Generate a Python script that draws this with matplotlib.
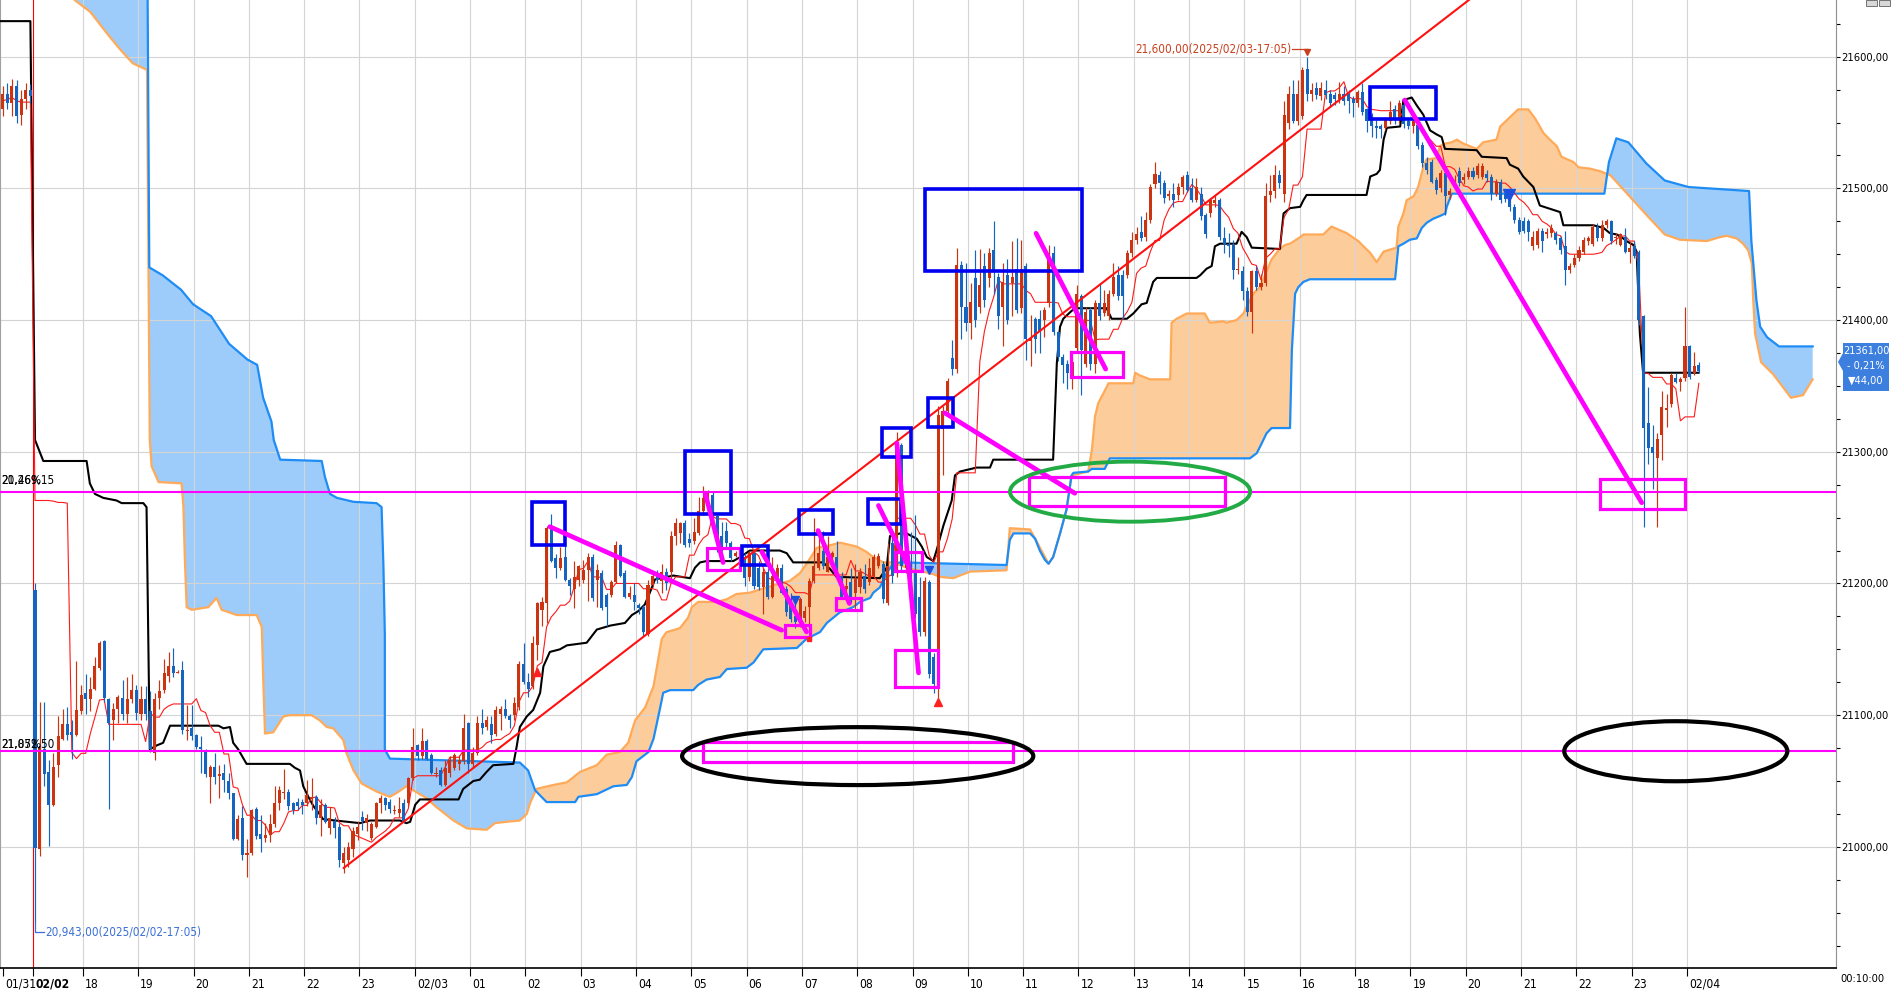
import os, glob
import numpy as np
import matplotlib
matplotlib.use('Agg')
import matplotlib.pyplot as plt
from matplotlib.patches import Rectangle, Ellipse, Polygon
from matplotlib import font_manager
from matplotlib.font_manager import FontProperties
from matplotlib.transforms import ScaledTranslation

# ------------------------------------------------------------------ data
first_index = -7   # bar index of the first candle (02/02 session starts at 0)

opens = [21560,21572,21565,21578,21556,21568,21575,21195,20998,21074,
         21057,21032,21062,21082,21093,21087,21085,21103,21117,21112,
         21120,21136,21156,21112,21096,21105,21113,21101,21112,21119,
         21101,21112,21103,21071,21113,21119,21130,21137,21132,21134,
         21088,21090,21085,21076,21072,21053,21061,21054,21056,21050,
         21041,21006,21022,20994,20995,21029,21010,21007,21009,21017,
         21033,21041,21042,21033,21034,21034,21033,21036,21038,21022,
         21032,21014,21020,21015,20988,20990,20998,21010,21023,21018,
         21007,21015,21033,21037,21034,21027,21026,21033,21033,21052,
         21077,21069,21080,21070,21055,21058,21047,21056,21060,21063,
         21065,21094,21063,21071,21094,21091,21093,21086,21101,21105,
         21099,21100,21106,21139,21125,21122,21153,21180,21185,21242,
         21219,21212,21220,21203,21196,21203,21203,21210,21220,21203,
         21208,21191,21191,21201,21229,21208,21190,21191,21184,21182,
         21162,21199,21208,21202,21209,21209,21236,21238,21246,21234,
         21232,21238,21255,21263,21267,21251,21236,21240,21231,21221,
         21224,21220,21205,21223,21212,21197,21209,21190,21205,21212,
         21196,21188,21175,21171,21174,21182,21202,21212,21225,21209,
         21220,21220,21206,21196,21201,21193,21197,21206,21201,21206,
         21213,21215,21185,21231,21209,21305,21212,21215,21209,21190,
         21163,21201,21144,21122,21317,21331,21371,21363,21442,21410,
         21398,21432,21410,21441,21432,21453,21433,21410,21434,21428,
         21439,21409,21441,21384,21401,21401,21400,21413,21451,21391,
         21372,21367,21355,21379,21418,21367,21408,21367,21413,21405,
         21403,21420,21434,21434,21434,21451,21461,21467,21463,21476,
         21503,21510,21504,21494,21496,21495,21501,21510,21500,21491,
         21496,21480,21481,21489,21491,21462,21458,21457,21438,21437,
         21422,21406,21437,21425,21428,21495,21498,21510,21496,21550,
         21572,21551,21555,21591,21572,21576,21570,21575,21572,21571,
         21568,21572,21572,21568,21565,21573,21560,21556,21547,21547,
         21546,21551,21560,21552,21563,21551,21547,21548,21533,21519,
         21520,21506,21500,21512,21495,21503,21513,21506,21509,21513,
         21510,21509,21511,21509,21496,21505,21496,21492,21486,21476,
         21475,21475,21456,21457,21468,21465,21466,21466,21462,21456,
         21438,21442,21447,21452,21460,21458,21471,21462,21472,21475,
         21462,21457,21463,21452,21456,21452,21403,21322,21304,21295,
         21313,21332,21336,21356,21353,21356,21380,21360,21366]
highs = [21578,21580,21583,21582,21575,21580,21579,21200,21110,21110,
         21066,21071,21099,21105,21106,21096,21141,21123,21131,21129,
         21144,21156,21157,21113,21109,21115,21127,21129,21131,21123,
         21122,21122,21118,21117,21127,21143,21148,21151,21134,21141,
         21108,21108,21086,21084,21074,21062,21071,21062,21063,21056,
         21041,21024,21031,21006,21029,21030,21024,21018,21025,21046,
         21046,21059,21044,21034,21037,21036,21051,21052,21039,21036,
         21033,21030,21023,21018,21000,21004,21015,21020,21027,21025,
         21019,21034,21039,21038,21036,21032,21038,21036,21053,21090,
         21078,21090,21082,21071,21061,21061,21066,21069,21071,21070,
         21101,21095,21076,21099,21105,21099,21099,21107,21107,21112,
         21101,21114,21141,21155,21132,21160,21186,21190,21244,21253,
         21222,21228,21229,21204,21217,21214,21218,21223,21222,21215,
         21210,21193,21203,21232,21230,21210,21198,21200,21185,21184,
         21203,21208,21210,21215,21212,21240,21250,21247,21248,21238,
         21250,21266,21274,21271,21270,21252,21247,21247,21232,21225,
         21228,21223,21225,21224,21217,21212,21212,21220,21215,21215,
         21198,21193,21188,21190,21183,21204,21250,21239,21240,21236,
         21225,21232,21209,21204,21212,21215,21212,21215,21219,21222,
         21223,21217,21231,21235,21315,21307,21230,21239,21252,21205,
         21205,21203,21147,21335,21335,21356,21385,21455,21445,21443,
         21428,21453,21454,21451,21455,21475,21436,21443,21446,21460,
         21462,21461,21443,21404,21402,21408,21410,21457,21456,21392,
         21374,21370,21372,21427,21420,21410,21410,21415,21428,21423,
         21423,21443,21441,21438,21453,21467,21471,21479,21482,21503,
         21520,21513,21506,21499,21504,21504,21510,21513,21508,21508,
         21501,21481,21493,21495,21493,21471,21466,21461,21448,21441,
         21425,21438,21441,21435,21504,21510,21518,21514,21566,21578,
         21582,21582,21592,21600,21580,21581,21581,21582,21575,21573,
         21581,21578,21575,21570,21575,21580,21561,21557,21552,21549,
         21554,21566,21563,21567,21568,21553,21553,21549,21535,21524,
         21522,21509,21514,21513,21500,21510,21516,21512,21516,21516,
         21519,21519,21514,21511,21507,21507,21498,21494,21488,21478,
         21478,21477,21468,21470,21470,21470,21473,21468,21464,21468,
         21443,21450,21456,21463,21464,21473,21474,21476,21477,21476,
         21466,21466,21470,21460,21460,21453,21404,21349,21320,21314,
         21346,21344,21360,21360,21357,21410,21381,21376,21368]
lows = [21555,21560,21555,21550,21548,21560,21565,20943,20993,21046,
        21001,21031,21053,21081,21081,21067,21084,21101,21101,21103,
        21119,21134,21110,21029,21081,21094,21096,21094,21109,21096,
        21096,21096,21072,21066,21105,21117,21125,21129,21132,21086,
        21081,21081,21074,21056,21053,21033,21048,21037,21042,21036,
        21005,21005,20990,20977,20994,21006,20996,21004,21004,21015,
        21028,21036,21028,21025,21028,21025,21031,21028,21017,21008,
        21018,21010,21007,20985,20980,20985,20992,21005,21013,21012,
        21005,21014,21026,21028,21026,21025,21023,21018,21031,21051,
        21066,21067,21066,21055,21053,21046,21046,21053,21058,21058,
        21063,21056,21060,21070,21086,21089,21079,21084,21089,21098,
        21090,21096,21104,21124,21114,21120,21142,21168,21170,21216,
        21204,21210,21202,21191,21181,21198,21200,21187,21187,21182,
        21180,21168,21190,21200,21205,21189,21188,21180,21177,21160,
        21160,21197,21200,21193,21195,21200,21229,21231,21228,21228,
        21230,21237,21252,21262,21244,21224,21225,21228,21217,21220,
        21214,21198,21202,21196,21195,21177,21188,21189,21201,21192,
        21175,21171,21166,21167,21171,21163,21200,21210,21211,21209,
        21217,21205,21189,21193,21185,21179,21193,21193,21199,21204,
        21212,21185,21184,21200,21205,21210,21208,21196,21174,21160,
        21160,21128,21117,21113,21282,21328,21358,21360,21386,21392,
        21386,21395,21405,21410,21425,21420,21393,21380,21397,21403,
        21405,21405,21370,21365,21375,21375,21387,21410,21389,21369,
        21352,21348,21348,21375,21343,21364,21362,21360,21400,21403,
        21400,21418,21415,21401,21432,21448,21458,21460,21460,21474,
        21500,21496,21489,21491,21486,21491,21496,21497,21490,21490,
        21476,21462,21478,21486,21461,21451,21448,21431,21435,21415,
        21403,21390,21423,21423,21426,21490,21493,21500,21490,21545,
        21550,21548,21553,21566,21566,21568,21567,21568,21562,21563,
        21565,21563,21557,21554,21562,21556,21543,21539,21538,21538,
        21544,21549,21549,21550,21546,21545,21542,21530,21516,21511,
        21504,21496,21497,21480,21492,21500,21502,21503,21507,21507,
        21508,21507,21505,21491,21494,21489,21490,21483,21474,21465,
        21466,21460,21453,21455,21452,21462,21463,21458,21450,21427,
        21436,21440,21445,21450,21457,21456,21460,21460,21470,21458,
        21458,21456,21451,21443,21447,21396,21243,21291,21272,21243,
        21294,21319,21334,21352,21346,21354,21355,21358,21360]
closes = [21572,21565,21578,21555,21568,21575,21570,20999,21076,21055,
          21032,21061,21084,21093,21085,21085,21104,21115,21112,21120,
          21137,21155,21113,21094,21105,21114,21101,21112,21119,21102,
          21112,21101,21074,21112,21118,21132,21137,21132,21133,21089,
          21089,21084,21076,21074,21055,21061,21053,21055,21051,21041,
          21006,21021,20994,20995,21028,21008,21006,21009,21017,21033,
          21043,21042,21031,21028,21031,21032,21039,21038,21022,21032,
          21019,21022,21014,20990,20995,21000,21012,21015,21020,21022,
          21017,21033,21037,21032,21029,21028,21029,21018,21052,21076,
          21069,21080,21067,21056,21056,21047,21060,21066,21070,21066,
          21090,21063,21071,21094,21090,21096,21085,21104,21105,21099,
          21096,21109,21139,21125,21120,21155,21185,21186,21242,21217,
          21212,21219,21203,21198,21205,21213,21210,21220,21189,21210,
          21181,21182,21201,21229,21206,21190,21193,21186,21181,21163,
          21199,21206,21203,21209,21200,21236,21246,21246,21229,21231,
          21239,21255,21265,21269,21246,21234,21228,21231,21219,21223,
          21216,21204,21223,21198,21197,21209,21190,21206,21212,21193,
          21178,21173,21171,21188,21179,21202,21213,21223,21213,21220,
          21223,21209,21190,21198,21186,21204,21209,21196,21212,21220,
          21221,21188,21213,21206,21306,21213,21223,21198,21177,21163,
          21202,21131,21124,21328,21331,21354,21363,21442,21410,21398,
          21414,21400,21427,21415,21451,21438,21403,21429,21400,21433,
          21408,21439,21386,21386,21386,21392,21408,21446,21391,21372,
          21366,21360,21368,21420,21377,21406,21367,21413,21403,21413,
          21420,21433,21418,21418,21451,21461,21465,21462,21476,21501,
          21511,21504,21493,21496,21491,21501,21509,21499,21491,21501,
          21479,21465,21491,21491,21463,21458,21456,21438,21439,21422,
          21406,21437,21425,21428,21494,21498,21510,21504,21556,21572,
          21551,21572,21590,21572,21575,21571,21576,21571,21565,21568,
          21572,21566,21566,21565,21573,21558,21551,21547,21546,21545,
          21552,21558,21552,21565,21549,21547,21551,21532,21519,21514,
          21505,21499,21512,21494,21498,21506,21504,21509,21513,21509,
          21517,21517,21508,21496,21505,21491,21492,21486,21476,21467,
          21468,21467,21463,21468,21460,21467,21470,21461,21453,21438,
          21441,21447,21453,21461,21462,21471,21462,21472,21475,21460,
          21463,21465,21452,21455,21449,21400,21318,21303,21299,21310,
          21334,21333,21358,21353,21355,21380,21357,21365,21361]

# kijun-sen (black), traced
kijun_x = [-7.6,-1,0,1.8,11.2,11.9,13.0,14.8,17.7,18.8,23.5,24.2,24.9,26.4,27.8,28.6,29.3,39.8,40.9,42.3,
           43.0,44.1,45.9,55.3,56.4,57.5,58.2,59.3,60.4,61.5,62.5,70.5,72.7,79.2,80.6,81.4,82.5,83.5,91.9,92.9,
           95.1,96.5,98.0,99.4,103.8,104.5,105.2,106.7,108.1,109.6,110.3,111.7,113.9,115.4,119.7,121.9,124.8,128.0,129.5,130.9,
           132.3,133.4,134.5,138.5,142.1,143.2,144.3,145.7,151.5,153.0,155.1,161.6,163.1,164.5,171.0,172.5,173.9,183.3,184.8,185.5,
           187.7,189.1,191.3,192.4,193.5,194.9,195.6,197.1,198.9,199.6,200.7,204.3,207.2,207.9,220.9,221.7,222.4,223.1,224.6,225.6,
           232.5,233.6,236.9,238.3,240.1,241.2,242.6,243.4,252.0,252.8,254.2,255.3,256.0,257.1,260.7,261.8,262.9,264.0,270.1,270.9,
           272.3,274.5,275.2,275.9,288.9,289.7,291.1,291.8,292.6,293.3,296.2,296.9,298.7,299.8,301.2,302.7,304.1,305.2,305.9,312.8,
           313.9,319.3,320.0,321.8,322.9,325.1,326.5,330.9,331.6,338.1,340.3,341.7,343.2,344.6,345.3,346.8,347.5,348.2,348.9,360.9]
kijun_y = [21627,21627,21309,21293,21293,21276,21268,21265,21263,21261,21261,21258,21074,21077,21079,21086,21092,21092,21090,21091,
           21079,21074,21063,21063,21060,21058,21046,21038,21031,21026,21021,21018,21020,21020,21018,21019,21032,21036,21036,21044,
           21050,21051,21057,21062,21063,21076,21091,21099,21104,21117,21137,21148,21150,21153,21155,21165,21168,21170,21176,21179,
           21184,21193,21203,21206,21204,21212,21216,21217,21217,21220,21225,21225,21223,21216,21216,21211,21205,21204,21212,21236,
           21238,21238,21234,21228,21220,21217,21225,21244,21263,21282,21285,21288,21288,21294,21294,21367,21395,21401,21406,21409,
           21409,21401,21401,21405,21412,21413,21429,21432,21432,21434,21439,21441,21456,21458,21458,21467,21463,21455,21454,21481,
           21485,21486,21491,21495,21495,21509,21511,21514,21537,21546,21547,21567,21569,21563,21556,21544,21541,21539,21530,21529,
           21524,21523,21518,21515,21509,21501,21487,21482,21472,21472,21470,21466,21465,21462,21460,21457,21452,21390,21360,21360]

# senkou span A (orange), traced
span_a_x = [-7.6,4.0,8.6,12.0,16.0,18.6,21.2,24.3,24.9,25.3,26.8,31.8,32.2,32.5,32.9,34.0,37.6,39.4,40.5,43.8,
            48.1,49.2,49.5,49.9,51.7,53.9,55.3,60.0,61.8,63.3,64.7,66.9,67.6,69.1,70.9,74.1,77.0,78.5,80.6,82.5,
            85.0,86.8,90.8,93.7,98.0,99.8,102.3,105.2,106.7,107.4,108.8,112.5,115.4,118.3,121.9,124.0,126.9,128.7,130.2,132.4,
            134.2,135.2,136.0,137.0,139.9,141.7,142.5,143.9,147.9,150.1,152.2,155.1,161.6,163.8,166.0,167.4,168.9,169.6,172.5,174.7,
            178.3,180.4,181.9,184.1,186.2,189.1,192.7,194.9,196.4,199.2,200.7,202.9,210.8,211.5,215.9,217.0,219.9,220.9,222.4,223.8,
            224.9,228.5,229.3,230.0,230.7,232.5,232.9,238.3,238.7,239.7,241.9,246.3,246.6,247.7,249.9,253.8,254.9,257.8,258.5,260.7,
            262.2,262.9,264.3,265.8,267.2,268.3,269.8,271.2,272.3,274.5,275.2,279.5,281.3,284.6,287.1,289.7,291.1,292.6,295.4,295.8,
            296.9,297.6,299.1,300.1,301.2,301.9,304.1,304.8,305.9,307.4,308.5,309.9,312.8,314.2,317.1,317.9,320.0,321.8,324.0,325.5,
            327.3,328.7,330.2,331.2,333.8,334.9,337.4,339.6,341.8,345.7,349.6,353.6,356.9,362.7,365.6,367.0,369.2,370.6,371.7,372.5,
            372.8,373.2,374.5,377.1,381.0,383.6,385.7]
span_a_y = [21720,21668,21643,21634,21616,21605,21595,21590,21309,21289,21277,21276,21258,21220,21182,21180,21182,21189,21180,21176,
            21176,21167,21129,21086,21087,21099,21100,21100,21096,21091,21090,21081,21071,21058,21048,21042,21038,21041,21046,21042,
            21037,21031,21020,21014,21013,21018,21019,21020,21025,21033,21044,21047,21049,21057,21062,21070,21072,21079,21096,21106,
            21122,21142,21158,21163,21166,21174,21182,21186,21186,21188,21192,21193,21200,21202,21208,21215,21223,21227,21229,21231,
            21228,21224,21220,21216,21216,21212,21209,21207,21205,21204,21206,21209,21210,21242,21241,21234,21215,21220,21238,21256,
            21282,21285,21301,21327,21337,21349,21352,21352,21360,21358,21355,21355,21398,21401,21405,21405,21398,21399,21398,21400,
            21405,21410,21420,21425,21437,21446,21453,21457,21458,21463,21465,21465,21471,21466,21460,21451,21444,21452,21455,21471,
            21481,21491,21494,21501,21516,21522,21523,21532,21534,21535,21537,21534,21530,21535,21537,21547,21554,21560,21560,21553,
            21542,21537,21532,21524,21520,21516,21515,21513,21510,21495,21480,21465,21461,21460,21463,21464,21462,21458,21453,21443,
            21415,21390,21368,21359,21341,21343,21355]

# senkou span B (blue), traced
span_b_x = [-7.6,24.3,24.8,27.7,31.7,34.3,38.2,42.1,46.1,48.2,49.5,51.3,51.8,53.2,62.2,62.9,64.0,65.5,69.1,74.1,
            75.2,75.6,75.9,75.9,77.0,105.2,107.0,108.5,109.6,111.0,117.2,117.9,121.9,125.5,128.4,129.5,130.5,133.1,134.2,135.6,
            136.3,137.8,142.8,143.9,145.7,148.6,150.1,154.4,155.9,158.0,165.3,167.4,170.3,171.8,174.6,177.5,179.0,181.2,181.9,183.3,
            184.8,186.2,187.7,210.8,211.5,212.3,215.9,217.0,218.0,219.1,219.9,220.9,222.4,223.8,224.9,225.3,228.5,229.3,232.1,233.2,
            263.6,265.1,266.1,267.2,268.3,272.3,272.7,273.4,274.1,275.2,276.6,295.1,295.8,296.9,298.3,299.8,300.9,302.0,303.4,304.8,
            306.0,306.3,307.4,340.5,341.5,343.1,345.7,349.6,353.6,358.8,371.9,372.4,373.5,374.3,375.8,378.4,385.7]
span_b_y = [21720,21720,21440,21434,21423,21412,21403,21382,21370,21366,21341,21323,21309,21294,21293,21281,21268,21265,21262,21261,
            21258,21213,21162,21074,21067,21064,21058,21043,21039,21034,21034,21038,21040,21046,21047,21053,21065,21072,21082,21105,
            21117,21119,21119,21123,21127,21129,21135,21136,21140,21150,21151,21158,21163,21170,21178,21182,21186,21189,21193,21197,
            21208,21215,21216,21214,21233,21238,21238,21234,21225,21218,21215,21220,21238,21256,21282,21284,21285,21287,21287,21295,
            21295,21299,21306,21314,21318,21318,21377,21420,21425,21429,21431,21431,21456,21458,21461,21462,21470,21474,21477,21479,
            21481,21486,21496,21496,21520,21538,21535,21519,21506,21501,21498,21460,21415,21395,21387,21380,21380]

# horizontal support lines and trend line
hline_levels = [21269.5, 21072.5]
trend_x = [67.0, 312.2]
trend_y = [20984, 21646]

# time axis labels
session_labels = ['01/31', '02/02']
session_pos = [-6.9, -0.4]
hour_labels = ['18','19','20','21','22','23','02/03','01','02','03','04','05','06','07','08','09',
               '10','11','12','13','14','15','16','18','19','20','21','22','23','02/04']
first_hour_pos = 10.4
bars_per_hour = 12

price_ticks = [21000, 21100, 21200, 21300, 21400, 21500, 21600]

# drawn annotations (bar index / price)
magenta_boxes = [(145.7,153.0,21210.5,21227.2),(162.7,168.2,21159.1,21168.6),(173.8,179.2,21179.9,21189.0),
                 (186.6,196.0,21121.4,21149.7),(186.6,192.4,21209.1,21223.9),(215.7,258.2,21258.8,21281.1),
                 (224.8,236.1,21357.0,21376.0),(339.6,358.0,21256.3,21279.3),(144.9,212.2,21064.3,21079.9)]
blue_boxes = [(107.9,115.0,21229.2,21262.1),(141.0,151.0,21252.4,21300.6),(153.3,159.1,21214.0,21228.1),
              (165.8,173.1,21237.6,21255.8),(180.8,187.8,21244.8,21264.2),(183.7,190.0,21296.4,21318.1),
              (193.8,199.1,21318.6,21341.0),(193.1,227.1,21437.3,21499.5),(289.7,303.9,21552.7,21577.2)]
magenta_segments = [((111.7,21243.1),(162.0,21164.5)),((145.4,21268.6),(149.3,21215.9)),
                    ((157.7,21224.0),(167.4,21163.2)),((169.9,21240.2),(176.7,21184.8)),
                    ((183.0,21259.2),(189.1,21215.8)),((187.0,21306.5),(191.7,21132.1)),
                    ((197.4,21329.5),(225.6,21268.5)),((217.2,21465.9),(232.3,21362.8)),
                    ((297.2,21567.1),(348.6,21261.3))]
green_ellipse = (237.6, 21269.7, 52.1, 45.6)
black_ellipses = [(178.5, 21068.9, 76.2, 44.0), (356.0, 21072.6, 48.4, 45.6)]
blue_arrows = [(165.0, 21187.4), (194.0, 21210.5)]
big_blue_arrow = (319.9, 21495)
red_arrows = [(109.0, 21133), (196.0, 21110)]
red_dot = (168.0, 21157.5)

high_label = '21,600,00(2025/02/03-17:05)'
low_label = '20,943,00(2025/02/02-17:05)'
last_price = ['21361,00', '- 0,21%', '\u25bc44,00']

# ------------------------------------------------------------------ fonts (narrow UI-like font)
def find_font(basenames):
    paths = [f.fname for f in font_manager.fontManager.ttflist]
    for d in ('/usr/share/fonts', '/usr/local/share/fonts', os.path.expanduser('~/.fonts')):
        paths += glob.glob(os.path.join(d, '**', '*.ttf'), recursive=True)
    lookup = {os.path.basename(p).lower(): p for p in paths}
    for b in basenames:
        if b in lookup:
            return lookup[b], b
    return None, None

reg_path, reg_name = find_font(['liberationsansnarrow-regular.ttf', 'liberationsansnarrow.ttf',
                                'dejavusanscondensed.ttf'])
bold_path, _ = find_font(['liberationsansnarrow-bold.ttf', 'dejavusanscondensed-bold.ttf'])
if reg_path and 'liberation' in reg_name:
    BASE = 9.6
elif reg_path:
    BASE = 8.0
else:
    BASE = 7.2

def FP(scale=1.0, bold=False):
    if bold and bold_path:
        return FontProperties(fname=bold_path, size=BASE * scale)
    if reg_path:
        return FontProperties(fname=reg_path, size=BASE * scale, weight='bold' if bold else 'normal')
    return FontProperties(family='DejaVu Sans', size=BASE * scale, weight='bold' if bold else 'normal')

W, H = 1891, 990
fig = plt.figure(figsize=(W / 100, H / 100), dpi=100)
fig.patch.set_facecolor('white')
ax = fig.add_axes([0, 22 / H, 1836 / W, 968 / H])
ax.set_xlim(-7.594, 390.76)
ax.set_ylim(20908.0, 21643.05)

UP = '#CC3311'
DN = '#1565C0'

# grid
hour_pos = [first_hour_pos + bars_per_hour * k for k in range(len(hour_labels))]
for xp in hour_pos:
    ax.axvline(xp, color='#D4D4D4', lw=0.8, zorder=1.5)
for yp in price_ticks:
    ax.axhline(yp, color='#D4D4D4', lw=0.8, zorder=1.5)
ax.axvline(session_pos[1], color='#FF0000', lw=0.8, zorder=1.6)

# cloud
gx = np.linspace(-7.6, 385.7, 6000)
ga = np.interp(gx, span_a_x, span_a_y)
gb = np.interp(gx, span_b_x, span_b_y)
ax.fill_between(gx, ga, gb, where=gb >= ga, color='#9DCCFB', lw=0, interpolate=True, zorder=1)
ax.fill_between(gx, ga, gb, where=ga > gb, color='#FDCC9B', lw=0, interpolate=True, zorder=1)
ax.plot(span_a_x, span_a_y, color='#FFAA58', lw=1.6, zorder=2)
ax.plot(span_b_x, span_b_y, color='#1E8CF5', lw=1.6, zorder=2)

# candles
n = len(closes)
assert len(opens) == n and len(highs) == n and len(lows) == n
xs = np.arange(first_index, first_index + n)
o = np.array(opens, float); h = np.array(highs, float)
l = np.array(lows, float); c = np.array(closes, float)
cols = [UP if c[i] >= o[i] else DN for i in range(n)]
ax.vlines(xs, l, h, colors=cols, lw=0.85, zorder=4)
body_lo = np.minimum(o, c)
body_h = np.maximum(np.abs(c - o), 0.8)
ax.bar(xs, body_h, bottom=body_lo, width=0.66, color=cols, lw=0, zorder=4.1)

# tenkan-sen from the candles (9 bars)
tenkan = np.array([(h[max(0, i - 8):i + 1].max() + l[max(0, i - 8):i + 1].min()) / 2 for i in range(n)])
ax.plot(xs, tenkan, color='#FF1A1A', lw=0.8, zorder=3.5)
ax.plot(kijun_x, kijun_y, color='black', lw=1.5, zorder=3.4)

# horizontal magenta lines and trend line
for lv in hline_levels:
    ax.axhline(lv, color='#FF00FF', lw=1.5, zorder=5)
ax.plot(trend_x, trend_y, color='#FF1010', lw=1.5, zorder=5)

# annotations
for (x0, x1, y0, y1) in magenta_boxes:
    ax.add_patch(Rectangle((x0, y0), x1 - x0, y1 - y0, fill=False, ec='#FF00FF', lw=2.3, zorder=6))
for (x0, x1, y0, y1) in blue_boxes:
    ax.add_patch(Rectangle((x0, y0), x1 - x0, y1 - y0, fill=False, ec='#0000F0', lw=2.6, zorder=6))
for (p0, p1) in magenta_segments:
    ax.plot([p0[0], p1[0]], [p0[1], p1[1]], color='#FF00FF', lw=3.4, solid_capstyle='round', zorder=6.5)
ax.add_patch(Ellipse(green_ellipse[:2], green_ellipse[2], green_ellipse[3], fill=False, ec='#22AA44', lw=2.8, zorder=6.6))
for e in black_ellipses:
    ax.add_patch(Ellipse(e[:2], e[2], e[3], fill=False, ec='black', lw=3.0, zorder=6.6))
for (bx, by) in blue_arrows:
    ax.plot(bx, by, marker='v', color='#1E50E0', ms=6, zorder=6)
ax.plot(*big_blue_arrow, marker='v', color='#1E50E0', ms=8, zorder=6)
for (rx, ry) in red_arrows:
    ax.plot(rx, ry, marker='^', color='#FF2020', ms=6, zorder=6)
ax.plot(*red_dot, marker='s', color='#FF2020', ms=3.5, zorder=6)

# high / low labels
hi_i = int(np.argmax(h)); lo_i = int(np.argmin(l))
hx = xs[hi_i]
ax.plot([hx - 3.2, hx], [h[hi_i] + 5.8, h[hi_i] + 5.8], color='#C8401E', lw=0.9, zorder=6)
ax.plot(hx, h[hi_i] + 3.2, marker='v', color='#C8401E', ms=4, zorder=6)
ax.text(hx - 3.4, h[hi_i] + 5.8, high_label, color='#C8401E', fontproperties=FP(1.05), ha='right', va='center', zorder=6)
lx = xs[lo_i]
ax.plot([lx, lx, lx + 2.0], [l[lo_i], l[lo_i] - 7.6, l[lo_i] - 7.6], color='#3A6FD8', lw=0.9, zorder=6)
ax.text(lx + 2.3, l[lo_i] - 7.6, low_label, color='#3A6FD8', fontproperties=FP(1.05), ha='left', va='center', zorder=6)

# overlapping level labels at the left
ax.text(-7.3, hline_levels[0] + 9, '21,269,15', fontproperties=FP(1.05), ha='left', va='center', zorder=6)
ax.text(-7.3, hline_levels[0] + 9, '20,46%', fontproperties=FP(1.05), ha='left', va='center', zorder=6)
ax.text(-7.3, hline_levels[1] + 5, '21,072,50', fontproperties=FP(1.05), ha='left', va='center', zorder=6)
ax.text(-7.3, hline_levels[1] + 5, '21,85%', fontproperties=FP(1.05), ha='left', va='center', zorder=6)

# axes styling
ax.spines['top'].set_visible(False)
ax.spines['left'].set_color('#A0A0A0')
ax.spines['right'].set_color('#909090')
ax.spines['bottom'].set_color('black')
ax.spines['bottom'].set_linewidth(1.2)
ax.yaxis.tick_right()
ax.set_yticks(price_ticks)
ax.set_yticklabels([f'{v},00' for v in price_ticks])
ax.set_yticks(np.arange(20925, 21650, 25), minor=True)
ax.tick_params(axis='y', which='major', direction='out', length=3, width=0.8, pad=0.5)
ax.tick_params(axis='y', which='minor', direction='out', length=3, width=0.8)
for lab in ax.get_yticklabels():
    lab.set_fontproperties(FP(1.0))

xt = session_pos + hour_pos
xl = session_labels + hour_labels
ax.set_xticks(xt)
ax.set_xticklabels(xl, ha='left')
ax.tick_params(axis='x', direction='out', length=6, width=0.8, pad=1)
off = ScaledTranslation(2 / 100, 0, fig.dpi_scale_trans)
for lab in ax.get_xticklabels():
    lab.set_transform(lab.get_transform() + off)
    lab.set_fontproperties(FP(1.08, bold=(lab.get_text() == '02/02')))

fig.text(1840 / W, 1 - 979 / H, '00:10:00', fontproperties=FP(1.0), ha='left', va='center')

# last price box
def fp(x, y):
    return (x / W, 1 - y / H)
box = [fp(1843, 343), fp(1889, 343), fp(1889, 391), fp(1843, 391), fp(1843, 371), fp(1838, 362), fp(1843, 353)]
fig.patches.append(Polygon(box, closed=True, transform=fig.transFigure, fc='#3C7FDF', ec='none'))
for k, t in enumerate(last_price):
    fig.text(1866 / W, 1 - (351 + 15 * k) / H, t, color='white', ha='center', va='center',
             fontproperties=FP(0.98))
# small toolbar boxes top-right
for x0 in (1866, 1879):
    fig.patches.append(Rectangle(fp(x0, 6), 11 / W, 6 / H, transform=fig.transFigure, fc='#D8D8D8', ec='#606060', lw=0.6))

fig.savefig('out.png', dpi=100)
